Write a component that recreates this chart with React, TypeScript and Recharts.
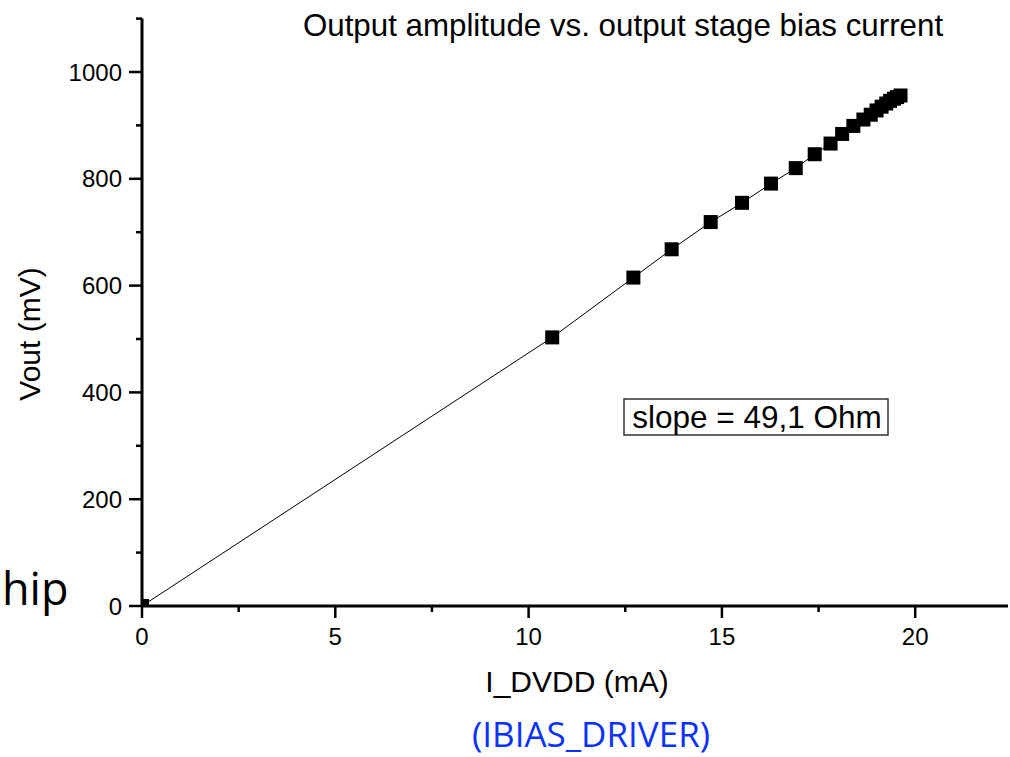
import React from "react";
import { ComposedChart, Line, XAxis, YAxis } from "recharts";

// I_DVDD (mA) vs Vout (mV)
const currentMa = [
  0, 10.61, 12.71, 13.7, 14.71, 15.52, 16.27, 16.91, 17.4, 17.81, 18.11, 18.4,
  18.66, 18.85, 19.0, 19.13, 19.25, 19.35, 19.45, 19.53, 19.62,
];
const voutMv = [
  0, 503, 615, 668, 719, 755, 791, 820, 846, 866, 884, 899, 911, 920, 928, 935,
  941, 946, 950, 953, 956,
];

const xTicks = [0, 2.5, 5, 7.5, 10, 12.5, 15, 17.5, 20];
const yTicks = [0, 100, 200, 300, 400, 500, 600, 700, 800, 900, 1000, 1100];

const title = "Output amplitude vs. output stage bias current";
const xLabel = "I_DVDD (mA)";
const yLabel = "Vout (mV)";
const note = "slope = 49,1 Ohm";
const subLabel = "(IBIAS_DRIVER)";
const cutText = "hip";

const data = currentMa.map((x, i) => ({ x, y: voutMv[i] }));

const AXIS_FONT = "'Liberation Sans', Arial, sans-serif";

function XTick(props: any) {
  const { x, y, payload } = props;
  const major = payload.value % 5 === 0;
  return (
    <g>
      <line x1={x} x2={x} y1={y} y2={y + (major ? 12 : 6)} stroke="#000" strokeWidth={2.5} />
      {major && (
        <text x={x} y={y + 39} textAnchor="middle" fontSize={24} fontFamily={AXIS_FONT} fill="#000">
          {payload.value}
        </text>
      )}
    </g>
  );
}

function YTick(props: any) {
  const { x, y, payload } = props;
  const major = payload.value % 200 === 0;
  return (
    <g>
      <line x1={x - (major ? 13 : 6)} x2={x} y1={y} y2={y} stroke="#000" strokeWidth={2.5} />
      {major && (
        <text x={x - 20} y={y + 8.5} textAnchor="end" fontSize={24} fontFamily={AXIS_FONT} fill="#000">
          {payload.value}
        </text>
      )}
    </g>
  );
}

function SquareDot(props: any) {
  const { cx, cy, index } = props;
  if (cx == null || cy == null) return <g key={index} />;
  return <rect key={index} x={cx - 7} y={cy - 7} width={14} height={14} fill="#000" />;
}

export default function App() {
  return (
    <div style={{ position: "absolute", left: 0, top: 0, width: 1010, height: 757, background: "#fff" }}>
      <ComposedChart
        width={1010}
        height={757}
        data={data}
        margin={{ top: 18.6, right: 2, bottom: 121, left: 82 }}
      >
        <XAxis
          dataKey="x"
          type="number"
          domain={[0, 22.4]}
          ticks={xTicks}
          interval={0}
          allowDataOverflow
          height={30}
          tickSize={0}
          tickMargin={0}
          tickLine={false}
          tick={<XTick />}
          axisLine={{ stroke: "#000", strokeWidth: 3 }}
        />
        <YAxis
          type="number"
          domain={[0, 1100]}
          ticks={yTicks}
          interval={0}
          allowDataOverflow
          width={60}
          tickSize={0}
          tickMargin={0}
          tickLine={false}
          tick={<YTick />}
          axisLine={{ stroke: "#000", strokeWidth: 3 }}
        />
        <Line
          type="linear"
          dataKey="y"
          stroke="#000"
          strokeWidth={1}
          dot={<SquareDot />}
          activeDot={false}
          isAnimationActive={false}
        />
      </ComposedChart>
      <svg
        width={1010}
        height={757}
        style={{ position: "absolute", left: 0, top: 0, pointerEvents: "none" }}
      >
        <text x={623} y={36} textAnchor="middle" fontSize={31.3} fontFamily={AXIS_FONT} fill="#000">
          {title}
        </text>
        <text
          transform="translate(40 334) rotate(-90)"
          textAnchor="middle"
          fontSize={30}
          fontFamily={AXIS_FONT}
          fill="#000"
        >
          {yLabel}
        </text>
        <text x={577} y={692} textAnchor="middle" fontSize={30} fontFamily={AXIS_FONT} fill="#000">
          {xLabel}
        </text>
        <rect x={624} y={399} width={264} height={36} fill="#fff" stroke="#333" strokeWidth={1.5} />
        <text x={757} y={428} textAnchor="middle" fontSize={31.5} fontFamily={AXIS_FONT} fill="#000">
          {note}
        </text>
        <text x={591} y={747} textAnchor="middle" fontSize={35} fontFamily="'Open Sans', sans-serif" fill="#0a32ff">
          {subLabel}
        </text>
        <text x={2} y={605} fontSize={45} fontFamily="'Open Sans', sans-serif" fill="#000">
          {cutText}
        </text>
      </svg>
    </div>
  );
}
